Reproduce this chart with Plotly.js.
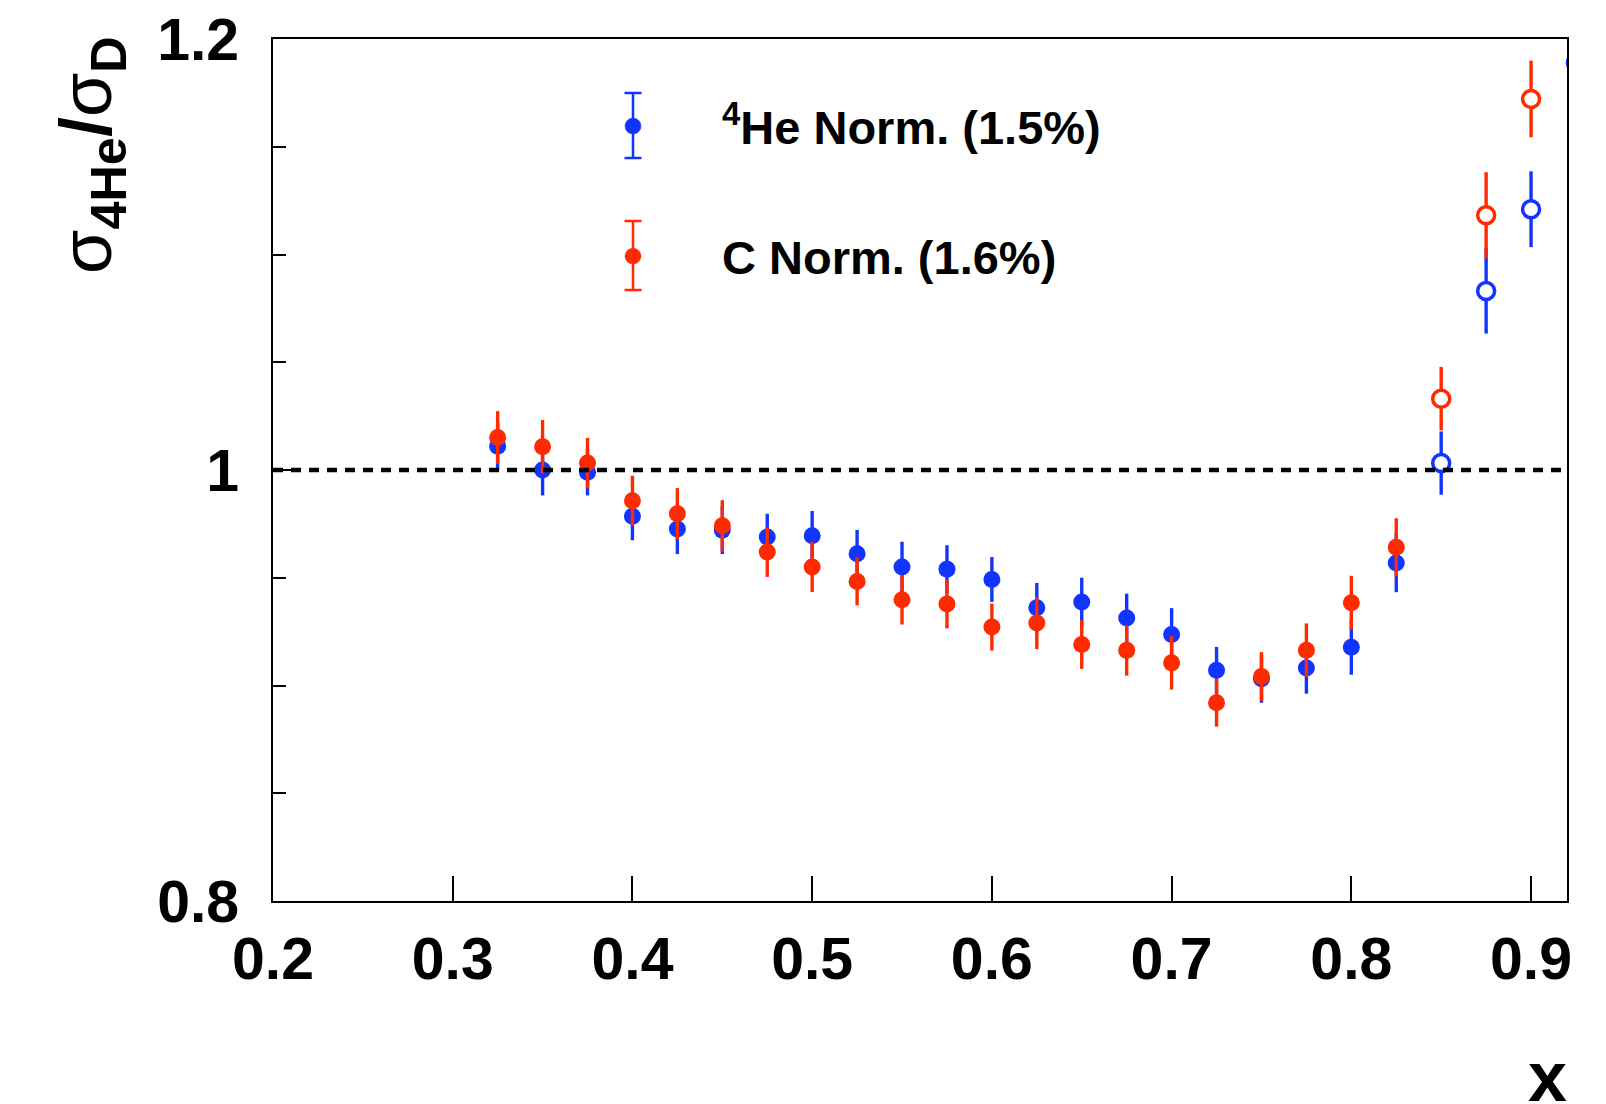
<!DOCTYPE html>
<html>
<head>
<meta charset="utf-8">
<script src="https://cdn.plot.ly/plotly-3.0.1.min.js"></script>
<style>
  html, body { margin: 0; padding: 0; background: #ffffff; }
  #chart { width: 1606px; height: 1104px; }
</style>
</head>
<body>
<div id="chart"></div>
<script>
// ---- data ----
const xBins = [0.325, 0.35, 0.375, 0.4, 0.425, 0.45, 0.475, 0.5, 0.525, 0.55, 0.575, 0.6,
               0.625, 0.65, 0.675, 0.7, 0.725, 0.75, 0.775, 0.8, 0.825, 0.85, 0.875, 0.9, 0.925];
const heNormRatio = [1.011, 1.000, 0.999, 0.9785, 0.9726, 0.9721, 0.9689, 0.9695, 0.9611, 0.955,
                     0.954, 0.9492, 0.9361, 0.9387, 0.9313, 0.9237, 0.9071, 0.9031, 0.9081, 0.9177,
                     0.9568, 1.0032, 1.0831, 1.121, 1.189];
const heNormErr   = [0.0111, 0.0118, 0.0108, 0.0111, 0.0116, 0.0111, 0.0108, 0.0115, 0.0111, 0.0117,
                     0.0111, 0.0104, 0.0115, 0.0113, 0.0113, 0.0122, 0.0108, 0.0111, 0.0119, 0.0127,
                     0.0135, 0.0147, 0.0198, 0.0176, 0.020];
const cNormRatio  = [1.0151, 1.0108, 1.0032, 0.9857, 0.9797, 0.9741, 0.9619, 0.955, 0.9483, 0.9398,
                     0.9378, 0.9271, 0.929, 0.919, 0.9163, 0.9105, 0.892, 0.9042, 0.9164, 0.9384,
                     0.9641, 1.0331, 1.1182, 1.1722];
const cNormErr    = [0.0122, 0.0124, 0.0117, 0.0116, 0.0119, 0.0119, 0.0115, 0.0116, 0.0111, 0.0115,
                     0.0113, 0.0109, 0.0121, 0.0113, 0.0117, 0.0124, 0.0111, 0.0113, 0.0124, 0.0125,
                     0.0135, 0.0147, 0.020, 0.0178];
const seriesNames = ['<sup>4</sup>He Norm. (1.5%)', 'C Norm. (1.6%)'];
const yTitle = '<span style="font-weight:normal">σ</span><sub>4He</sub>/<span style="font-weight:normal">σ</span><sub>D</sub>';
const xTitle = 'x';
const openFromX = 0.85;   // points at and above this x are drawn as open circles

// ---- style ----
const BLUE = '#1234ff';
const RED = '#ff2a00';
const FONT = 'Liberation Sans, Arial, Helvetica, sans-serif';

// plot-area geometry (pixels)
const W = 1606, H = 1104;
const M = { l: 273, r: 39, t: 39, b: 203 };
const PW = W - M.l - M.r, PH = H - M.t - M.b;
const px2paperX = p => (p - M.l) / PW;
const px2paperY = p => (H - M.b - p) / PH;

function makeTrace(name, xs, ys, errs, color, group) {
  const isOpen = xs.slice(0, ys.length).map(v => v >= openFromX - 1e-9);
  return {
    type: 'scatter', mode: 'markers', name: name, legendgroup: group,
    x: xs.slice(0, ys.length), y: ys,
    error_y: { type: 'data', array: errs, visible: true, color: color, thickness: 3.4, width: 0 },
    marker: {
      symbol: 'circle', size: 17,
      color: isOpen.map(o => o ? '#ffffff' : color),
      line: { color: color, width: isOpen.map(o => o ? 3.5 : 0) }
    },
    cliponaxis: true,
    hoverinfo: 'x+y'
  };
}

const traces = [
  makeTrace(seriesNames[0], xBins, heNormRatio, heNormErr, BLUE, 'g1'),
  makeTrace(seriesNames[1], xBins, cNormRatio, cNormErr, RED, 'g2')
];

// legend item geometry (pixels)
const legSym = [{ x: 633, y: 126, top: 93, bot: 158, c: BLUE },
                { x: 633, y: 254, top: 221, bot: 290, c: RED }];
const shapes = [
  { type: 'line', xref: 'paper', yref: 'y', x0: 0, x1: 1, y0: 1, y1: 1,
    line: { color: '#000000', width: 4.5, dash: '10px,8px' }, layer: 'above' }
];
legSym.forEach(s => {
  const capHalf = 8.5 / PW;
  const xp = px2paperX(s.x);
  shapes.push({ type: 'line', xref: 'paper', yref: 'paper', x0: xp, x1: xp,
                y0: px2paperY(s.top), y1: px2paperY(s.bot), line: { color: s.c, width: 2.5 }, layer: 'above' });
  [s.top, s.bot].forEach(yy => {
    shapes.push({ type: 'line', xref: 'paper', yref: 'paper', x0: xp - capHalf, x1: xp + capHalf,
                  y0: px2paperY(yy), y1: px2paperY(yy), line: { color: s.c, width: 2.5 }, layer: 'above' });
  });
});

const tickFont = { family: FONT, size: 59, color: '#000000', weight: 'bold' };

const layout = {
  width: W, height: H,
  margin: M,
  paper_bgcolor: '#ffffff', plot_bgcolor: '#ffffff',
  showlegend: true,
  legend: {
    x: px2paperX(633 - 89), xanchor: 'left',
    y: px2paperY(89), yanchor: 'top',
    bgcolor: 'rgba(0,0,0,0)', borderwidth: 0,
    font: { family: FONT, size: 47, color: '#000000', weight: 'bold' },
    itemwidth: 168, tracegroupgap: 66, itemclick: false, itemdoubleclick: false
  },
  xaxis: {
    range: [0.2, 0.92], dtick: 0.1, tick0: 0.2,
    ticks: 'inside', ticklen: 25, tickwidth: 2, tickcolor: '#000000',
    showline: true, linewidth: 2, linecolor: '#000000', mirror: true,
    showgrid: false, zeroline: false, automargin: false,
    tickfont: tickFont, ticklabelstandoff: 5
  },
  yaxis: {
    range: [0.8, 1.2], dtick: 0.2, tick0: 0.8,
    ticks: 'inside', ticklen: 25, tickwidth: 2, tickcolor: '#000000',
    minor: { ticks: 'inside', dtick: 0.05, ticklen: 12.7, tickwidth: 2, tickcolor: '#000000', showgrid: false },
    showline: true, linewidth: 2, linecolor: '#000000', mirror: true,
    showgrid: false, zeroline: false, automargin: false,
    tickfont: tickFont, ticklabelstandoff: 20
  },
  shapes: shapes,
  annotations: [
    { text: yTitle, xref: 'paper', yref: 'paper', x: px2paperX(91), y: px2paperY(155),
      xanchor: 'center', yanchor: 'middle', textangle: -90, showarrow: false,
      font: { family: FONT, size: 72, color: '#000000', weight: 'bold' } },
    { text: xTitle, xref: 'paper', yref: 'paper', x: px2paperX(1569), y: px2paperY(1077),
      xanchor: 'right', yanchor: 'middle', showarrow: false,
      font: { family: FONT, size: 70, color: '#000000', weight: 'bold' } }
  ]
};

Plotly.newPlot('chart', traces, layout, { displayModeBar: false, staticPlot: true });
</script>
</body>
</html>
